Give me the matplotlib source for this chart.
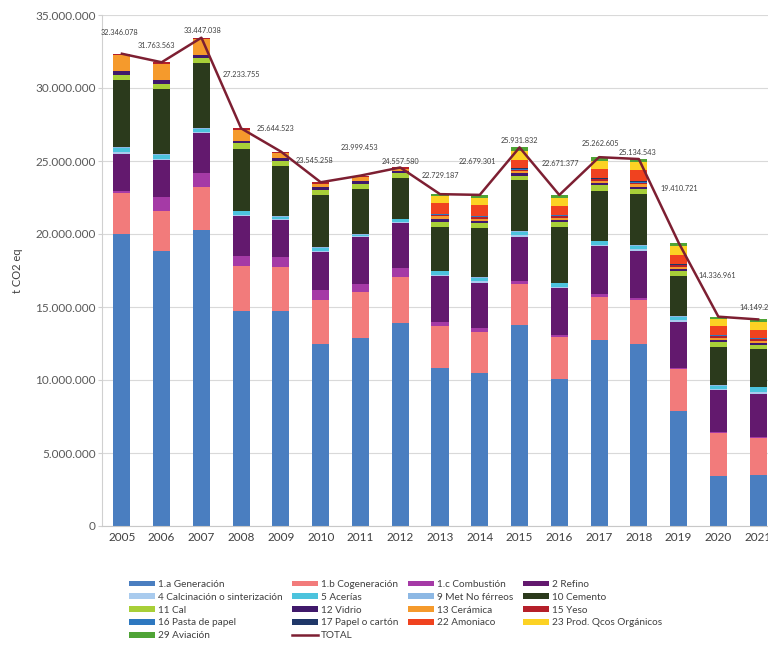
import numpy as np
import matplotlib
matplotlib.use("Agg")
import matplotlib.pyplot as plt
from matplotlib.patches import Patch
from matplotlib.lines import Line2D
from matplotlib.ticker import FuncFormatter

years = [str(y) for y in range(2005, 2022)]

# emisiones por sector (millones t CO2 eq)
gen = [20.0, 18.85, 20.3, 14.7, 14.7, 12.45, 12.9, 13.9, 10.8, 10.5, 13.8, 10.1, 12.75, 12.5, 7.85, 3.45, 3.5]
cog = [2.8, 2.7, 2.95, 3.1, 3.05, 3.05, 3.15, 3.15, 2.9, 2.8, 2.8, 2.85, 2.95, 3.0, 2.9, 2.9, 2.5]
comb = [0.15, 1.0, 0.9, 0.7, 0.7, 0.65, 0.55, 0.6, 0.3, 0.25, 0.15, 0.12, 0.2, 0.15, 0.1, 0.1, 0.1]
refino = [2.55, 2.5, 2.75, 2.7, 2.5, 2.6, 3.2, 3.1, 3.1, 3.1, 3.05, 3.2, 3.25, 3.2, 3.15, 2.85, 2.95]
calc = [0.1, 0.1, 0.1, 0.1, 0.1, 0.1, 0.05, 0.1, 0.1, 0.1, 0.1, 0.1, 0.1, 0.1, 0.1, 0.1, 0.1]
acer = [0.3, 0.25, 0.2, 0.25, 0.1, 0.2, 0.1, 0.15, 0.25, 0.25, 0.25, 0.25, 0.25, 0.25, 0.2, 0.2, 0.35]
metnf = [0.05] * 17
cemento = [4.6, 4.45, 4.45, 4.2, 3.45, 3.55, 3.05, 2.8, 3.0, 3.35, 3.5, 3.8, 3.4, 3.5, 2.75, 2.6, 2.55]
cal = [0.35, 0.4, 0.35, 0.4, 0.35, 0.35, 0.4, 0.3, 0.3, 0.35, 0.3, 0.35, 0.4, 0.35, 0.35, 0.35, 0.3]
vidrio = [0.25, 0.25, 0.2, 0.2, 0.2, 0.2, 0.2, 0.15, 0.2, 0.15, 0.15, 0.15, 0.15, 0.15, 0.15, 0.15, 0.15]
ceramica = [1.1, 1.11, 1.1, 0.73, 0.34, 0.25, 0.25, 0.15, 0.2, 0.15, 0.15, 0.15, 0.15, 0.15, 0.15, 0.15, 0.15]
yeso = [0.1, 0.1, 0.1, 0.1, 0.1, 0.1, 0.1, 0.11, 0.1, 0.1, 0.1, 0.1, 0.1, 0.1, 0.1, 0.1, 0.1]
pasta = [0, 0, 0, 0, 0, 0, 0, 0, 0.05, 0.05, 0.05, 0.05, 0.05, 0.05, 0.05, 0.05, 0.05]
papel = [0, 0, 0, 0, 0, 0, 0, 0, 0.05, 0.05, 0.05, 0.05, 0.05, 0.05, 0.05, 0.05, 0.05]
amoniaco = [0, 0, 0, 0, 0, 0, 0, 0, 0.75, 0.75, 0.6, 0.6, 0.6, 0.75, 0.6, 0.6, 0.55]
prodq = [0, 0, 0, 0, 0, 0, 0, 0, 0.45, 0.5, 0.6, 0.55, 0.55, 0.55, 0.6, 0.5, 0.5]
aviacion = [0, 0, 0, 0, 0, 0, 0, 0, 0.13, 0.18, 0.23, 0.2, 0.26, 0.23, 0.26, 0.14, 0.2]

total = [32346078, 31763563, 33447038, 27233755, 25644523, 23545258, 23999453,
         24557580, 22729187, 22679301, 25931832, 22671377, 25262605, 25134543,
         19410721, 14336961, 14149273]

# desplazamiento de las etiquetas del total (px)
lbl_dx = [-2, -5, 1, 0, -5, -6, -1, 0, 0, -2, 0, 1, 1, -1, 1, -1, 0]
lbl_dy = [21, 17, 7, 54, 23, 22, 28, 6, 19, 33, 7, 31, 14, 7, 54, 41, 12]

series = [
    ("1.a Generación", gen, "#4a7ec0"),
    ("1.b Cogeneración", cog, "#f27b7b"),
    ("1.c Combustión", comb, "#a53aa6"),
    ("2 Refino", refino, "#63196e"),
    ("4 Calcinación o sinterización", calc, "#a9cbee"),
    ("5 Acerías", acer, "#4cc3dd"),
    ("9 Met No férreos", metnf, "#8db8e4"),
    ("10 Cemento", cemento, "#2b3a1c"),
    ("11 Cal", cal, "#a8cf38"),
    ("12 Vidrio", vidrio, "#40196b"),
    ("13 Cerámica", ceramica, "#f59a2c"),
    ("15 Yeso", yeso, "#b5202a"),
    ("16 Pasta de papel", pasta, "#2e78c0"),
    ("17 Papel o cartón", papel, "#1f3768"),
    ("22 Amoniaco", amoniaco, "#f0421f"),
    ("23 Prod. Qcos Orgánicos", prodq, "#fcd224"),
    ("29 Aviación", aviacion, "#4fa436"),
]
line_color = "#7d1f32"

plt.rcParams['font.family'] = ['Lato', 'DejaVu Sans']

fig = plt.figure(figsize=(7.68, 6.49), dpi=100)
ax = fig.add_axes([102 / 768, 123 / 649, 676 / 768, 511 / 649])

x = np.arange(len(years))
bottom = np.zeros(len(years))
handles = {}
for name, vals, col in series:
    v = np.array(vals) * 1e6
    ax.bar(x, v, 0.43, bottom=bottom, color=col, zorder=2)
    bottom += v
    handles[name] = Patch(facecolor=col)

ax.plot(x, total, color=line_color, lw=1.8, zorder=3)
handles["TOTAL"] = Line2D([], [], color=line_color, lw=1.8)

for i, t in enumerate(total):
    s = f"{t:,}".replace(",", ".")
    ax.annotate(s, (x[i], t), xytext=(lbl_dx[i], lbl_dy[i]),
                textcoords="offset pixels", ha="center", va="center",
                fontsize=5.3, color="#404040", zorder=4)

ax.set_xlim(-0.5, 16.5)
ax.set_ylim(0, 35e6)
ax.set_yticks(np.arange(0, 35e6 + 1, 5e6))
ax.yaxis.set_major_formatter(FuncFormatter(lambda v, p: f"{int(v):,}".replace(",", ".")))
ax.set_xticks(x)
ax.set_xticklabels(years)
ax.tick_params(axis="y", labelsize=8.5, colors="#595959", length=3, color="#d0d0d0", pad=1.5)
ax.tick_params(axis="x", labelsize=8.5, colors="#404040", length=0, pad=4)
ax.grid(axis="y", color="#d9d9d9", lw=0.8, zorder=0)
ax.set_axisbelow(True)
for sp in ["top", "right"]:
    ax.spines[sp].set_visible(False)
ax.spines["left"].set_color("#d0d0d0")
ax.spines["bottom"].set_color("#c8c8c8")
ax.set_ylabel("t CO2 eq", fontsize=8, color="#404040", labelpad=9)

order = ["1.a Generación", "4 Calcinación o sinterización", "11 Cal", "16 Pasta de papel", "29 Aviación",
         "1.b Cogeneración", "5 Acerías", "12 Vidrio", "17 Papel o cartón", "TOTAL",
         "1.c Combustión", "9 Met No férreos", "13 Cerámica", "22 Amoniaco",
         "2 Refino", "10 Cemento", "15 Yeso", "23 Prod. Qcos Orgánicos"]
fig.legend([handles[k] for k in order], order, loc="upper left",
           bbox_to_anchor=(120 / 768, 1 - 571 / 649), ncol=4, frameon=False,
           fontsize=7.2, handlelength=2.6, handleheight=0.5, handletextpad=0.3,
           columnspacing=0.95, labelspacing=0.38, labelcolor="#404040")

fig.savefig("out.png", dpi=100)
